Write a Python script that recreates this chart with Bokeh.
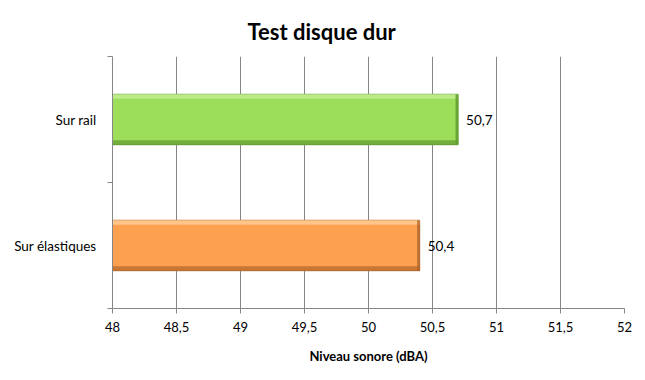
from bokeh.plotting import figure
from bokeh.models import FixedTicker, ColumnDataSource, Title
from bokeh.embed import file_html
from bokeh.resources import INLINE
from bokeh.core.properties import value

categories = ["Sur élastiques", "Sur rail"]
values = [50.4, 50.7]
colors = ["#FDA04F", "#9CDD5A"]
light = ["#FFC58A", "#BDEB8A"]
dark = ["#B0652A", "#5F9A30"]
x_ticks = [48, 48.5, 49, 49.5, 50, 50.5, 51, 51.5, 52]
x_tick_labels = ["48", "48,5", "49", "49,5", "50", "50,5", "51", "51,5", "52"]
value_labels = ["50,4", "50,7"]

X0, X1 = 48, 52
half = 0.2
bevel = 0.035

FONT = "Lato"

p = figure(width=645, height=380, x_range=(X0, X1), y_range=(0, len(categories)),
           output_backend="svg", toolbar_location=None,
           min_border_left=112, min_border_right=21, min_border_top=56, min_border_bottom=72)
p.outline_line_color = None
p.background_fill_color = "white"
p.border_fill_color = "white"

centers = [i + 0.5 for i in range(len(categories))]
src = ColumnDataSource(dict(
    y=centers, v=values, c=colors, lc=light, dc=dark, lab=value_labels,
    bot=[c - half for c in centers], top=[c + half for c in centers],
    topin=[c + half - bevel for c in centers], botin=[c - half + bevel for c in centers],
    left=[X0] * len(values),
    vin=[v - 0.02 for v in values],
))

# grid
p.xgrid.ticker = FixedTicker(ticks=x_ticks)
p.xgrid.grid_line_color = "#868686"
p.ygrid.grid_line_color = None

# bars
p.quad(left="left", right="v", bottom="bot", top="top", fill_color="c", line_color="dc", line_width=1, source=src)
p.quad(left="left", right="v", bottom="topin", top="top", fill_color="lc", line_color=None, source=src)
p.quad(left="left", right="v", bottom="bot", top="botin", fill_color="dc", line_color=None, fill_alpha=0.7, source=src)
p.quad(left="vin", right="v", bottom="bot", top="top", fill_color="dc", line_color=None, fill_alpha=0.8, source=src)

p.text(x="v", y="y", text="lab", source=src, x_offset=8, text_baseline="middle",
       text_font=value(FONT), text_font_size="13.5px", text_color="black")

# x axis
xa = p.xaxis[0]
xa.ticker = FixedTicker(ticks=x_ticks)
xa.major_label_overrides = {t: l for t, l in zip(x_ticks, x_tick_labels)}
xa.axis_line_color = "#868686"
xa.major_tick_line_color = "#868686"
xa.major_tick_in = 0
xa.major_tick_out = 5
xa.minor_tick_line_color = None
xa.major_label_text_font = FONT
xa.major_label_text_font_size = "13px"
xa.major_label_text_color = "black"
xa.major_label_standoff = 8
xa.axis_label = "Niveau sonore (dBA)"
xa.axis_label_text_font = FONT
xa.axis_label_text_font_style = "bold"
xa.axis_label_text_font_size = "13px"
xa.axis_label_text_color = "black"
xa.axis_label_standoff = 13

# y axis
ya = p.yaxis[0]
ya.ticker = FixedTicker(ticks=centers, minor_ticks=list(range(len(categories) + 1)))
ya.major_label_overrides = {c: n for c, n in zip(centers, categories)}
ya.axis_line_color = "#868686"
ya.major_tick_line_color = None
ya.minor_tick_line_color = "#868686"
ya.minor_tick_in = 0
ya.minor_tick_out = 5
ya.major_label_text_font = FONT
ya.major_label_text_font_size = "13.5px"
ya.major_label_text_color = "black"
ya.major_label_standoff = 10

p.title = Title(text="Test disque dur", align="left", text_font=FONT, text_font_style="bold",
                text_font_size="22px", text_color="black", offset=135, standoff=24)

open("out.html", "w").write(file_html(p, INLINE))
